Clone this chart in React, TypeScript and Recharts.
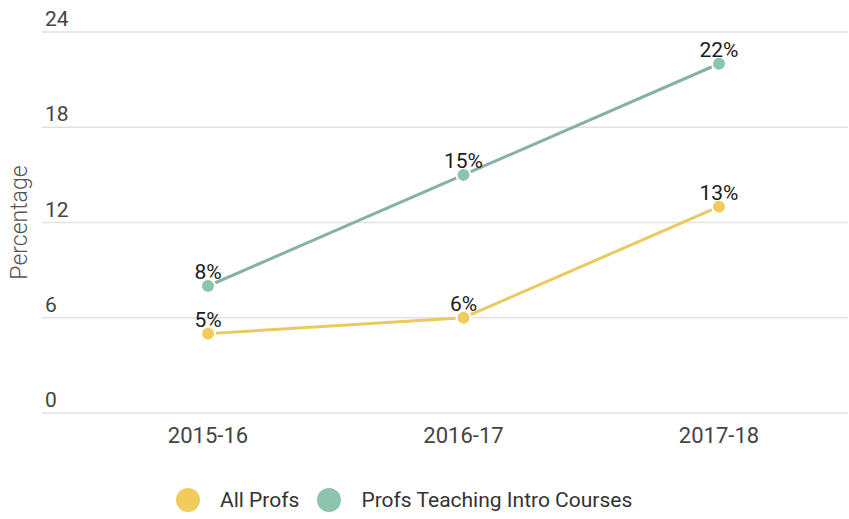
import { LineChart, Line, XAxis, YAxis, CartesianGrid, LabelList, Legend } from "recharts";

const years = ["2015-16", "2016-17", "2017-18"];
const allProfs = [5, 6, 13];
const introProfs = [8, 15, 22];
const yTicks = [0, 6, 12, 18, 24];

const chartData = years.map((year, i) => ({
  year,
  allProfs: allProfs[i],
  introProfs: introProfs[i],
}));

const YELLOW_LINE = "#ebc95f";
const YELLOW_DOT = "#f0cc5c";
const TEAL_LINE = "#86b2a2";
const TEAL_DOT = "#8cc4ad";
const FONT = "Roboto, 'Noto Sans', sans-serif";
const PLOT_LEFT = 42;

const YTick = ({ y, payload }: any) => (
  <text x={PLOT_LEFT + 3} y={y - 6} fill="#444" fontSize={21} fontFamily={FONT} textAnchor="start">
    {payload.value}
  </text>
);

const XTick = ({ x, y, payload }: any) => (
  <text x={x} y={y} dy="0.71em" fill="#444" fontSize={22} fontFamily={FONT} textAnchor="middle">
    {payload.value}
  </text>
);

const ValueLabel = ({ x, y, value }: any) => (
  <text x={x} y={y - 7} fill="#1a1a1a" fontSize={21} fontFamily={FONT} textAnchor="middle">
    {value}%
  </text>
);

const AxisTitle = ({ viewBox }: any) => {
  const cy = viewBox.y + viewBox.height / 2;
  return (
    <text
      x={19}
      y={cy}
      fill="#555"
      fontSize={23}
      fontWeight={300}
      fontFamily={FONT}
      textAnchor="middle"
      dominantBaseline="central"
      transform={`rotate(-90, 19, ${cy})`}
    >
      Percentage
    </text>
  );
};

const legendItems = [
  { name: "All Profs", color: YELLOW_DOT },
  { name: "Profs Teaching Intro Courses", color: TEAL_DOT },
];

const LegendContent = () => (
  <div style={{ display: "flex", alignItems: "center", height: 38, paddingLeft: 176, fontFamily: FONT, fontSize: 21, color: "#333" }}>
    {legendItems.map((item) => (
      <div key={item.name} style={{ display: "flex", alignItems: "center", marginRight: 18 }}>
        <span style={{ width: 24, height: 24, borderRadius: 12, background: item.color, display: "inline-block", marginRight: 20 }} />
        <span>{item.name}</span>
      </div>
    ))}
  </div>
);

export default function App() {
  return (
    <div style={{ position: "fixed", top: 0, left: 0, background: "#fff" }}>
      <LineChart width={849} height={519} data={chartData} margin={{ top: 32, right: 1, left: 0, bottom: 0 }}>
        <CartesianGrid vertical={false} stroke="#e2e2e2" strokeWidth={1.5} />
        <XAxis
          dataKey="year"
          axisLine={false}
          tickLine={false}
          tick={<XTick />}
          tickMargin={8}
          height={68}
          padding={{ left: 166, right: 129 }}
        />
        <YAxis
          width={PLOT_LEFT}
          domain={[0, 24]}
          ticks={yTicks}
          axisLine={false}
          tickLine={false}
          tick={<YTick />}
          label={<AxisTitle />}
        />
        <Legend
          verticalAlign="bottom"
          height={38}
          wrapperStyle={{ left: 0, bottom: 0, width: 849, height: 38 }}
          content={<LegendContent />}
        />
        <Line
          dataKey="allProfs"
          stroke={YELLOW_LINE}
          strokeWidth={3}
          dot={{ r: 7, fill: YELLOW_DOT, stroke: "#fff", strokeWidth: 2 }}
          activeDot={false}
          isAnimationActive={false}
        >
          <LabelList dataKey="allProfs" content={<ValueLabel />} />
        </Line>
        <Line
          dataKey="introProfs"
          stroke={TEAL_LINE}
          strokeWidth={3}
          dot={{ r: 7, fill: TEAL_DOT, stroke: "#fff", strokeWidth: 2 }}
          activeDot={false}
          isAnimationActive={false}
        >
          <LabelList dataKey="introProfs" content={<ValueLabel />} />
        </Line>
      </LineChart>
    </div>
  );
}
